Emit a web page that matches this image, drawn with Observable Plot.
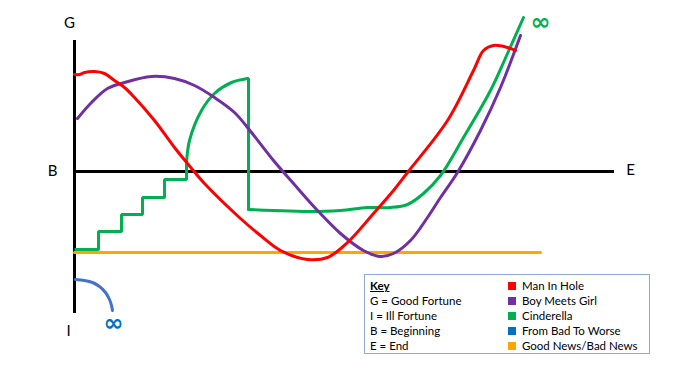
<!DOCTYPE html>
<html>
<head>
<meta charset="utf-8">
<script src="https://cdn.jsdelivr.net/npm/d3@7"></script>
<script src="https://cdn.jsdelivr.net/npm/@observablehq/plot@0.6"></script>
<style>
  html, body { margin: 0; padding: 0; background: #fff; }
  #wrap { position: relative; width: 675px; height: 378px; font-family: Lato, "Open Sans", sans-serif; }
  #chart svg { display: block; }
  #key { position: absolute; left: 364px; top: 274px; width: 286px; height: 80px; border: 1.5px solid #8EA9D0; box-sizing: border-box; font-size: 11.5px; color: #000; }
  #key .col { position: absolute; top: 3px; line-height: 15px; }
  #key .left { left: 5px; }
  #key .right { left: 143px; }
  #key .sw { display: inline-block; width: 8px; height: 8px; margin-right: 6px; vertical-align: -0px; }
  #key b { text-decoration: underline; }
</style>
</head>
<body>
<div id="wrap">
  <div id="chart"></div>
  <div id="key"></div>
</div>
<script>
// Story time (0 = Beginning, 540 = End) and fortune (0 = neutral, + good, - ill)
const manInHole = [
  [0,97],[5,97],[10,99],[20,100],[30,98],[40,91],[50,84],[60,74],[80,51],[100,24],[113,8],[130,-12],
  [166,-47],[186,-64],[206,-79],[233,-88],[253,-86],[273,-71],[299,-42],[319,-19],[333,-1],[373,51],
  [399,101],[409,121],[419,126],[433,124],[441,121]
];
const boyMeetsGirl = [
  [3,53],[17,69],[33,83],[50,89],[77,95],[100,93],[120,86],[140,74],[160,59],[177,39],[199,11],[219,-12],
  [243,-39],[266,-62],[289,-79],[306,-85],[319,-82],[336,-69],[353,-46],[366,-26],[383,-1],[406,41],
  [426,84],[446,136]
];
const cinderellaSteps = [
  [0,-78],[24,-78],[24,-60],[47,-60],[47,-43],[68,-43],[68,-26],[90,-26],[90,-8],[112,-8],[112,8]
];
const cinderellaRise = [[112,8],[115,31],[127,61],[140,78],[157,89],[173,93]];
const cinderellaDrop = [[173,93],[174,93],[174,-38]];
const cinderellaEnd = [
  [174,-38],[199,-39],[233,-40],[266,-39],[293,-36],[316,-36],[333,-33],[349,-22],[366,-4],[389,34],
  [416,81],[433,118],[449,154]
];
const badToWorse = [[1,-108],[10,-109],[18,-111],[25,-115],[31,-121],[35,-128],[37,-134],[38,-139]];
const goodNewsBadNews = [[0,-81],[466,-81]];

const axisLabels = [
  {x: -5, y: 148, t: "G"},
  {x: -22, y: 0, t: "B"},
  {x: 556, y: 1, t: "E"},
  {x: -6, y: -160, t: "I"}
];
const infinities = [
  {x: 39, y: -152, t: "∞", c: "#0070C0"},
  {x: 466, y: 149, t: "∞", c: "#00B050"}
];

const keyLeft = ["G = Good Fortune", "I = Ill Fortune", "B = Beginning", "E = End"];
const keyNames = ["Man In Hole", "Boy Meets Girl", "Cinderella", "From Bad To Worse", "Good News/Bad News"];
const keyColors = ["#FF0000", "#7030A0", "#00B050", "#0070C0", "#FFA500"];

const lw = 3;
const plot = Plot.plot({
  width: 675,
  height: 378,
  margin: 0,
  x: {domain: [0, 540], range: [74, 614], axis: null},
  y: {domain: [-142, 131], range: [313, 40], axis: null},
  marks: [
    Plot.ruleY([0], {x1: 0, x2: 540, stroke: "#000", strokeWidth: 3}),
    Plot.ruleX([0], {y1: -142, y2: 131, stroke: "#000", strokeWidth: 3}),
    Plot.line(goodNewsBadNews, {x: d => d[0], y: d => d[1], stroke: "#FFA500", strokeWidth: lw}),
    Plot.line(badToWorse, {x: d => d[0], y: d => d[1], stroke: "#4472C4", strokeWidth: lw, curve: "catmull-rom"}),
    Plot.line(cinderellaSteps, {x: d => d[0], y: d => d[1], stroke: "#00B050", strokeWidth: lw, strokeLinejoin: "miter", strokeLinecap: "butt"}),
    Plot.line(cinderellaRise, {x: d => d[0], y: d => d[1], stroke: "#00B050", strokeWidth: lw, curve: "catmull-rom"}),
    Plot.line(cinderellaDrop, {x: d => d[0], y: d => d[1], stroke: "#00B050", strokeWidth: lw, strokeLinejoin: "miter"}),
    Plot.line(cinderellaEnd, {x: d => d[0], y: d => d[1], stroke: "#00B050", strokeWidth: lw, curve: "catmull-rom"}),
    Plot.line(boyMeetsGirl, {x: d => d[0], y: d => d[1], stroke: "#7030A0", strokeWidth: lw, curve: "catmull-rom"}),
    Plot.line(manInHole, {x: d => d[0], y: d => d[1], stroke: "#FF0000", strokeWidth: lw, curve: "catmull-rom"}),
    Plot.text(axisLabels, {x: "x", y: "y", text: "t", fontSize: 15, fill: "#000", fontFamily: "Lato"}),
    Plot.text(infinities, {x: "x", y: "y", text: "t", fontSize: 24, fontWeight: "bold", fill: d => d.c, fontFamily: "DejaVu Sans"})
  ]
});
document.getElementById("chart").appendChild(plot);

const key = document.getElementById("key");
const left = document.createElement("div");
left.className = "col left";
left.innerHTML = "<b>Key</b><br>" + keyLeft.join("<br>");
key.appendChild(left);
const right = document.createElement("div");
right.className = "col right";
right.innerHTML = keyNames.map((n, i) => `<span class="sw" style="background:${keyColors[i]}"></span>${n}`).join("<br>");
key.appendChild(right);
</script>
</body>
</html>
